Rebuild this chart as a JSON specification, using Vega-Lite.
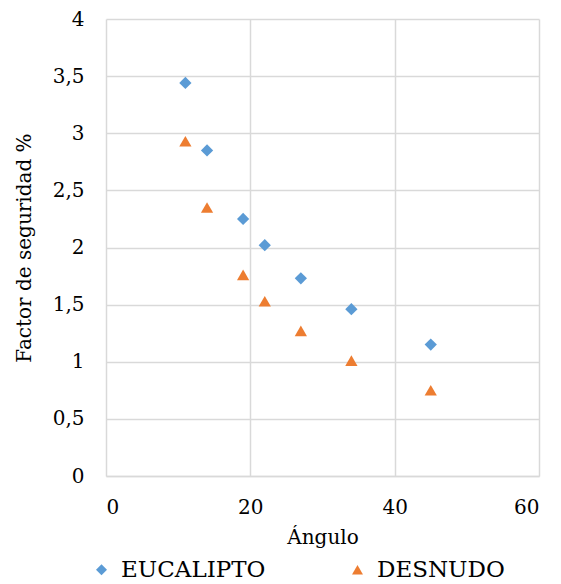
{
  "$schema": "https://vega.github.io/schema/vega-lite/v6.json",
  "autosize": "none",
  "width": 433,
  "height": 457,
  "padding": {"left": 106, "top": 19, "right": 22, "bottom": 108},
  "background": "white",
  "data": {
    "values": [
      {"angulo": 11, "fs": 3.44, "serie": "EUCALIPTO"},
      {"angulo": 14, "fs": 2.85, "serie": "EUCALIPTO"},
      {"angulo": 19, "fs": 2.25, "serie": "EUCALIPTO"},
      {"angulo": 22, "fs": 2.02, "serie": "EUCALIPTO"},
      {"angulo": 27, "fs": 1.73, "serie": "EUCALIPTO"},
      {"angulo": 34, "fs": 1.46, "serie": "EUCALIPTO"},
      {"angulo": 45, "fs": 1.15, "serie": "EUCALIPTO"},
      {"angulo": 11, "fs": 2.93, "serie": "DESNUDO"},
      {"angulo": 14, "fs": 2.35, "serie": "DESNUDO"},
      {"angulo": 19, "fs": 1.76, "serie": "DESNUDO"},
      {"angulo": 22, "fs": 1.53, "serie": "DESNUDO"},
      {"angulo": 27, "fs": 1.27, "serie": "DESNUDO"},
      {"angulo": 34, "fs": 1.01, "serie": "DESNUDO"},
      {"angulo": 45, "fs": 0.75, "serie": "DESNUDO"}
    ]
  },
  "mark": {"type": "point", "filled": true, "opacity": 1, "size": 150},
  "encoding": {
    "x": {
      "field": "angulo",
      "type": "quantitative",
      "title": "Ángulo",
      "scale": {"domain": [0, 60], "nice": false},
      "axis": {"values": [0, 20, 40, 60], "labelPadding": 21, "titlePadding": 10}
    },
    "y": {
      "field": "fs",
      "type": "quantitative",
      "title": "Factor de seguridad %",
      "scale": {"domain": [0, 4], "nice": false},
      "axis": {"values": [0, 0.5, 1, 1.5, 2, 2.5, 3, 3.5, 4], "format": ",.1~f", "labelExpr": "replace(datum.label, '.', ',')", "labelPadding": 22, "titlePadding": 18}
    },
    "color": {
      "field": "serie",
      "type": "nominal",
      "title": null,
      "scale": {"domain": ["EUCALIPTO", "DESNUDO"], "range": ["#5B9BD5", "#ED7D31"]},
      "legend": {
        "orient": "none",
        "legendX": -16,
        "legendY": 539,
        "direction": "horizontal",
        "columnPadding": 80
      }
    },
    "shape": {
      "field": "serie",
      "type": "nominal",
      "scale": {"domain": ["EUCALIPTO", "DESNUDO"], "range": ["diamond", "triangle-up"]}
    }
  },
  "config": {
    "view": {"stroke": null},
    "legend": {
      "labelFont": "DejaVu Serif",
      "labelFontSize": 23,
      "labelColor": "#000000",
      "symbolSize": 120,
      "labelOffset": 8
    },
    "axis": {
      "labelFont": "DejaVu Serif",
      "titleFont": "DejaVu Serif",
      "labelFontSize": 20,
      "titleFontSize": 20,
      "titleFontWeight": "normal",
      "labelColor": "#000000",
      "titleColor": "#000000",
      "gridColor": "#D9D9D9",
      "gridWidth": 1.5,
      "domainColor": "#D9D9D9",
      "domainWidth": 1.5,
      "ticks": false
    },
    "axisY": {"domain": false}
  }
}
